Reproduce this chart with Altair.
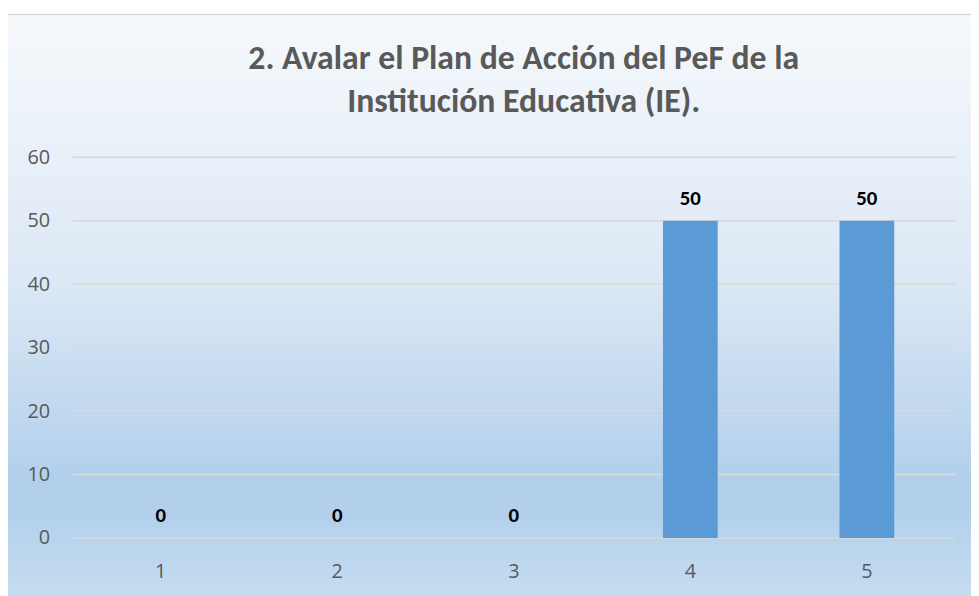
import altair as alt
import pandas as pd

categories = ["1", "2", "3", "4", "5"]
values = [0, 0, 0, 50, 50]
title_lines = ["2. Avalar el Plan de Acción del PeF de la", "Institución Educativa (IE)."]
y_ticks = [0, 10, 20, 30, 40, 50, 60]

df = pd.DataFrame({"cat": categories, "val": values})
grid_df = pd.DataFrame({"val": y_ticks})

W, H = 890, 384
FONT = "Carlito, 'Liberation Sans Narrow', 'Open Sans'"

bg = alt.Chart(pd.DataFrame({"d": [0]})).mark_rect(
    fill=alt.Gradient(
        gradient="linear", x1=0, y1=0, x2=0, y2=1,
        stops=[
            alt.GradientStop(color="#F6F9FC", offset=0),
            alt.GradientStop(color="#DCE8F5", offset=0.45),
            alt.GradientStop(color="#B2D0EC", offset=0.78),
            alt.GradientStop(color="#B2D0EC", offset=0.84),
            alt.GradientStop(color="#C9DEF1", offset=1),
        ],
    ),
    stroke="#D9D9D9", strokeWidth=1.5,
).encode(
    x=alt.value(-68), x2=alt.value(W + 40),
    y=alt.value(-144), y2=alt.value(H + 70),
)

y_scale = alt.Scale(domain=[0, 60], nice=False)
y_axis = alt.Axis(values=y_ticks, ticks=False, domain=False, grid=False,
                  labelPadding=23, labelColor="#595959", labelFontSize=20,
                  labelFont="Open Sans", zindex=1)

grid = alt.Chart(grid_df).mark_rule(color="#D9D9D9", strokeWidth=1.5).encode(
    y=alt.Y("val:Q", scale=y_scale, axis=y_axis, title=None),
    x=alt.value(0), x2=alt.value(W),
)

x_enc = alt.X("cat:N", sort=categories, title=None,
              scale=alt.Scale(paddingInner=0.69, paddingOuter=0.345),
              axis=alt.Axis(labelAngle=0, ticks=False, domain=False, labelPadding=24,
                            labelColor="#595959", labelFontSize=20, labelFont="Open Sans",
                            grid=False, zindex=1))
y_enc = alt.Y("val:Q", title=None, scale=y_scale, axis=y_axis)

bars = alt.Chart(df).mark_bar(color="#5B9BD5").encode(x=x_enc, y=y_enc)
labels = alt.Chart(df).mark_text(dy=-22, fontWeight="bold", fontSize=21, color="#000000",
                                 font=FONT).encode(
    x=alt.X("cat:N", sort=categories), y=y_enc, text="val:Q")

chart = alt.layer(bg, grid, bars, labels).properties(
    width=W, height=H,
    autosize=alt.AutoSizeParams(type="none"),
    padding={"left": 65, "top": 148, "right": 16, "bottom": 56},
    title=alt.TitleParams(text=title_lines, anchor="middle", dx=10, dy=106, offset=0,
                          fontSize=34, fontWeight="bold", color="#595959",
                          font=FONT, lineHeight=43),
).configure_view(stroke=None)

chart.save("out.html", embed_options={"renderer": "svg", "actions": False})
